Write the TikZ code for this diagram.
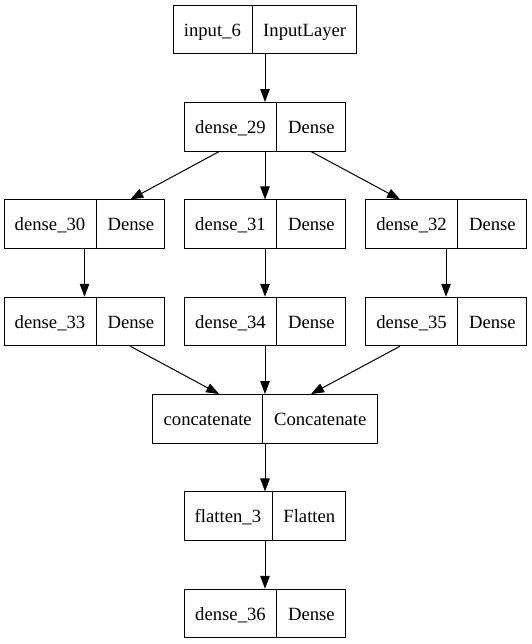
\documentclass[tikz,border=0pt]{standalone}
\usepackage{fontspec}
\setmainfont{Liberation Serif}
\usetikzlibrary{shapes.multipart,arrows.meta}
% fixed line box so both fields share one baseline position
\newcommand\fieldstrut{\rule[-4pt]{0pt}{21.4pt}}
\begin{document}
\begin{tikzpicture}[x=1pt,y=-1pt,
  layer/.style={draw=black, line width=1pt, rectangle split, rectangle split horizontal,
    rectangle split parts=2, rectangle split part align=base,
    inner xsep=10.67pt, inner ysep=0pt, minimum height=48.5pt,
    font=\fontsize{18.67}{22}\selectfont},
  link/.style={line width=1pt, -{Triangle[length=13pt,width=9.5pt]}}]
\useasboundingbox (0,0) rectangle (531,644);
% layer graph of the model
\node[layer] (in)  at (265,29.5)  {input\_6\fieldstrut \nodepart{two} InputLayer\fieldstrut};
\node[layer] (d29) at (265,126.8) {dense\_29\fieldstrut \nodepart{two} Dense\fieldstrut};
\node[layer] (d30) at (84.5,224.2) {dense\_30\fieldstrut \nodepart{two} Dense\fieldstrut};
\node[layer] (d31) at (265,224.2) {dense\_31\fieldstrut \nodepart{two} Dense\fieldstrut};
\node[layer] (d32) at (446,224.2) {dense\_32\fieldstrut \nodepart{two} Dense\fieldstrut};
\node[layer] (d33) at (84.5,321.5) {dense\_33\fieldstrut \nodepart{two} Dense\fieldstrut};
\node[layer] (d34) at (265,321.5) {dense\_34\fieldstrut \nodepart{two} Dense\fieldstrut};
\node[layer] (d35) at (446,321.5) {dense\_35\fieldstrut \nodepart{two} Dense\fieldstrut};
\node[layer] (cat) at (265,418.8) {concatenate\fieldstrut \nodepart{two} Concatenate\fieldstrut};
\node[layer] (fl)  at (265,516.2) {flatten\_3\fieldstrut \nodepart{two} Flatten\fieldstrut};
\node[layer] (d36) at (265,613.5) {dense\_36\fieldstrut \nodepart{two} Dense\fieldstrut};
% data flow
\draw[link] (in) -- (d29);
\draw[link] (d29) -- (d30);
\draw[link] (d29) -- (d31);
\draw[link] (d29) -- (d32);
\draw[link] (d30) -- (d33);
\draw[link] (d31) -- (d34);
\draw[link] (d32) -- (d35);
\draw[link] (d33) -- (cat);
\draw[link] (d34) -- (cat);
\draw[link] (d35) -- (cat);
\draw[link] (cat) -- (fl);
\draw[link] (fl) -- (d36);
\end{tikzpicture}
\end{document}
